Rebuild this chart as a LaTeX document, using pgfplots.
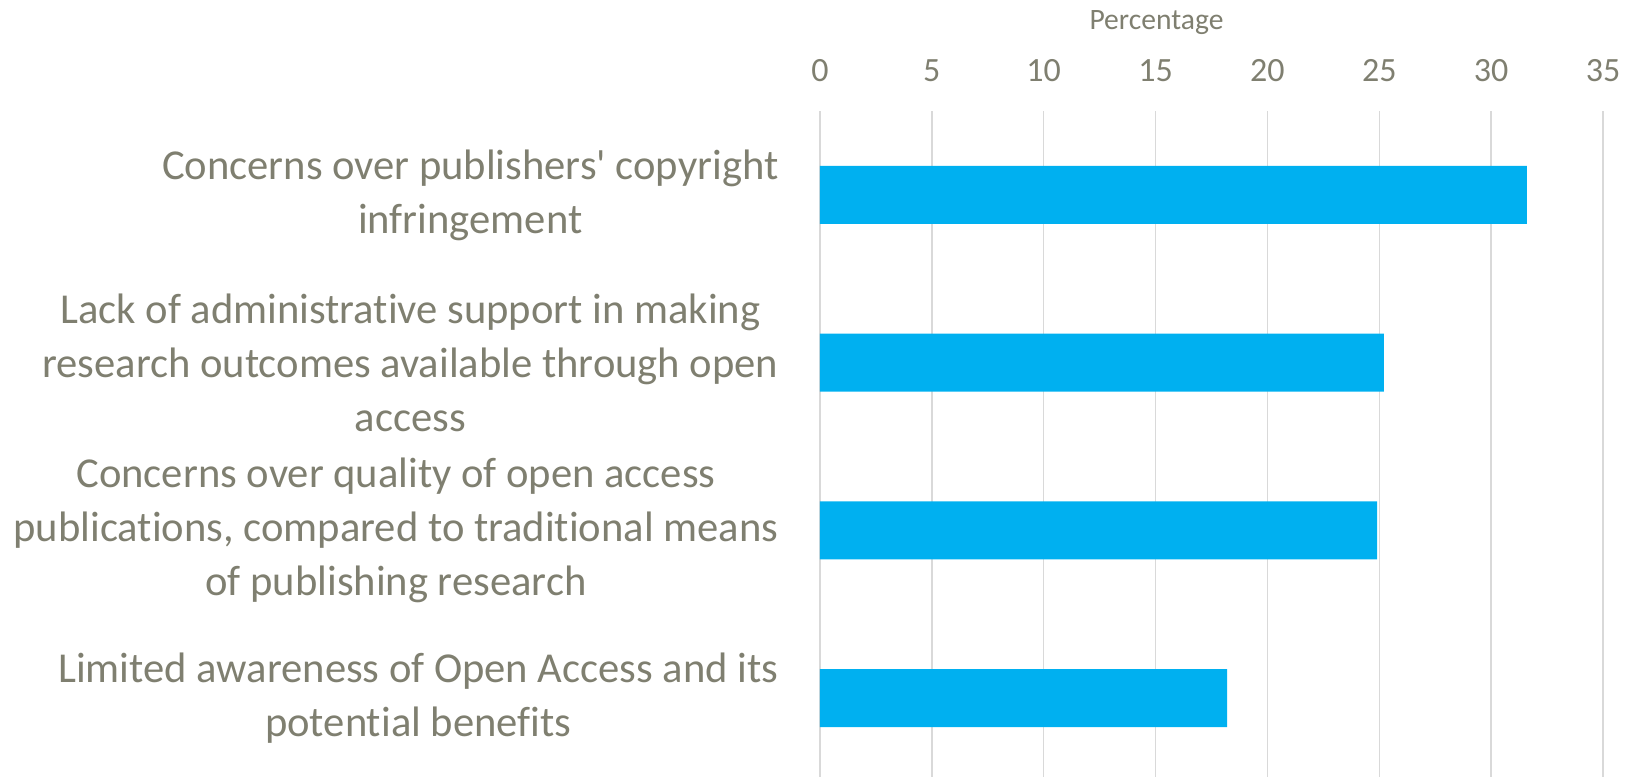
\documentclass[border=0pt]{standalone}
\usepackage{pgfplots}
\pgfplotsset{compat=1.18}
\usepackage{fontspec}
\setmainfont{Carlito}[Ligatures={NoCommon,NoRare,NoContextual}]
\definecolor{txtgray}{RGB}{127,127,112}
\definecolor{barblue}{RGB}{0,176,240}
\definecolor{gridgray}{RGB}{217,217,217}
\begin{document}
\begin{tikzpicture}
\path[use as bounding box] (-410pt,0) rectangle (403pt,388.5pt);
\begin{axis}[
  at={(0,0)}, anchor=south west,
  scale only axis,
  width=391.5pt, height=333pt,
  xbar,
  bar width=0.346,
  xmin=0, xmax=35,
  xtick={0,5,...,35},
  ymin=-0.5, ymax=3.47,
  y dir=reverse,
  ytick={0,1,2,3},
  yticklabels={
    {Concerns over publishers\textquotesingle{} copyright\\infringement},
    {Lack of administrative support in making\\research outcomes available through open\\access},
    {Concerns over quality of open access\\publications, compared to traditional means\\of publishing research},
    {Limited awareness of Open Access and its\\potential benefits}},
  yticklabel style={align=center, font=\fontsize{21.3}{27}\selectfont, text=txtgray, xshift=-13pt},
  xticklabel pos=upper,
  xticklabel style={font=\fontsize{17}{20}\selectfont, text=txtgray, yshift=11pt},
  /pgf/number format/assume math mode=true,
  xlabel={Percentage},
  xlabel style={font=\fontsize{14.8}{17}\selectfont, text=txtgray, yshift=5.8pt, xshift=-27.5pt},
  axis line style={draw=none},
  major tick style={draw=none},
  xmajorgrids,
  grid style={gridgray, line width=0.75pt},
]
\addplot[fill=barblue, draw=none] coordinates {(31.6,0) (25.2,1) (24.9,2) (18.2,3)};
\end{axis}
\end{tikzpicture}
\end{document}
